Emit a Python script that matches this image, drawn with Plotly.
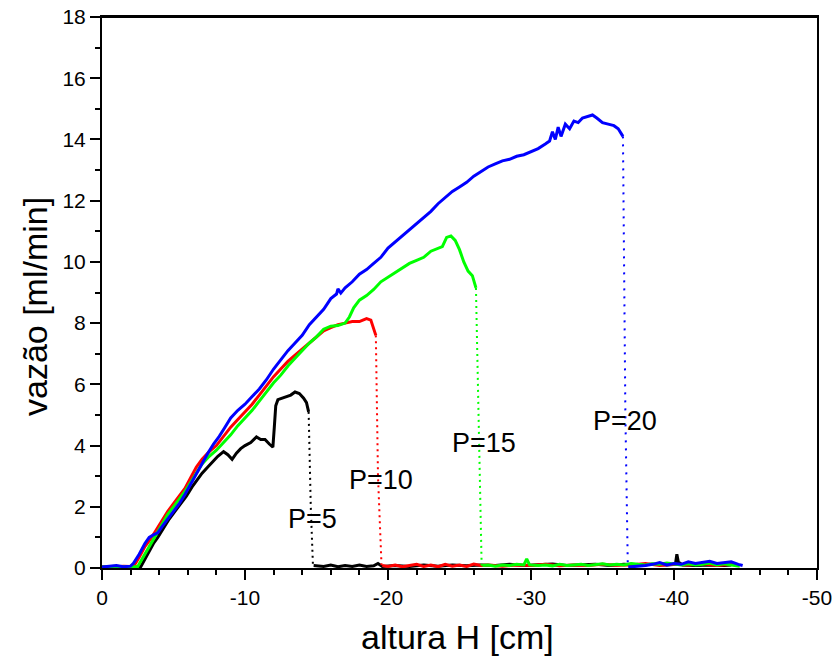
import plotly.graph_objects as go

# ---------------- data ----------------
# P=20 (blue)
blue_x = [0, -0.5, -1.0, -1.5, -2.0, -2.2, -2.6, -3.0, -3.3, -3.6, -3.9, -4.2, -4.6, -5.0, -5.4, -5.8,
          -6.2, -6.6, -7.0, -7.4, -7.8, -8.2, -8.6, -9.0, -9.5, -10.0, -10.5, -11.0, -11.5, -12.0,
          -12.5, -13.0, -13.5, -14.0, -14.5, -15.0, -15.5, -16.0, -16.4, -16.5, -16.7, -17.0, -17.5,
          -18.0, -18.5, -19.0, -19.5, -20.0, -20.5, -21.0, -21.5, -22.0, -22.5, -23.0, -23.5, -24.0,
          -24.5, -25.0, -25.5, -26.0, -26.5, -27.0, -27.5, -28.0, -28.5, -29.0, -29.5, -30.0, -30.5,
          -31.0, -31.3, -31.5, -31.7, -31.9, -32.1, -32.4, -32.7, -33.0, -33.3, -33.6, -34.0, -34.3,
          -34.6, -35.0, -35.4, -35.8, -36.1, -36.43]
blue_y = [0.03, 0.05, 0.08, 0.04, 0.06, 0.15, 0.45, 0.8, 1.0, 1.08, 1.15, 1.35, 1.6, 1.85, 2.1, 2.4,
          2.75, 3.1, 3.45, 3.75, 4.05, 4.3, 4.6, 4.9, 5.15, 5.35, 5.6, 5.85, 6.15, 6.5,
          6.8, 7.1, 7.35, 7.6, 7.95, 8.2, 8.45, 8.8, 8.95, 9.12, 8.98, 9.15, 9.35,
          9.6, 9.75, 9.95, 10.15, 10.45, 10.65, 10.85, 11.05, 11.25, 11.45, 11.65, 11.9, 12.1,
          12.3, 12.45, 12.6, 12.8, 12.95, 13.1, 13.2, 13.3, 13.35, 13.45, 13.5, 13.6, 13.7,
          13.85, 13.95, 14.25, 14.0, 14.4, 14.1, 14.5, 14.35, 14.6, 14.55, 14.7, 14.75, 14.8,
          14.7, 14.55, 14.5, 14.45, 14.35, 14.1]
blue_drop_x = [-36.43, -36.5, -36.6, -36.77]
blue_drop_y = [14.1, 10.5, 5.0, 0.05]
blue_tail_x = [-36.8, -37.5, -38.0, -38.5, -39.0, -39.5, -40.0, -40.5, -41.0, -41.5, -42.0, -42.5,
               -43.0, -43.5, -44.0, -44.5, -44.8]
blue_tail_y = [0.03, 0.05, 0.08, 0.12, 0.18, 0.1, 0.15, 0.12, 0.2, 0.15, 0.18, 0.22,
               0.15, 0.18, 0.2, 0.12, 0.08]

# P=10 (red)
red_x = [0, -0.5, -1.0, -1.5, -2.0, -2.3, -2.6, -3.0, -3.4, -3.8, -4.2, -4.6, -5.0, -5.4, -5.8, -6.2,
         -6.6, -7.0, -7.5, -8.0, -8.5, -9.0, -9.5, -10.0, -10.5, -11.0, -11.5, -12.0, -12.5, -13.0,
         -13.5, -14.0, -14.5, -15.0, -15.5, -16.0, -16.5, -17.0, -17.5, -18.0, -18.5, -18.8, -19.0,
         -19.15]
red_y = [0.03, 0.05, 0.04, 0.06, 0.05, 0.12, 0.35, 0.7, 0.95, 1.25, 1.55, 1.85, 2.1, 2.35, 2.6, 2.95,
         3.3, 3.55, 3.8, 4.0, 4.3, 4.6, 4.85, 5.1, 5.35, 5.65, 5.95, 6.25, 6.5, 6.75,
         6.95, 7.15, 7.35, 7.55, 7.75, 7.85, 7.95, 8.0, 8.05, 8.05, 8.15, 8.1, 7.85,
         7.6]
red_drop_x = [-19.15, -19.3, -19.55]
red_drop_y = [7.6, 3.0, 0.05]
red_tail_x = [-19.6, -20.0, -20.5, -21.0, -21.5, -22.0, -22.5, -23.0, -23.5, -24.0, -24.5, -25.0,
              -25.5, -26.0, -26.5, -27.0, -28.0, -29.0, -30.0, -31.0, -32.0, -33.0, -34.0, -35.0,
              -36.0, -37.0, -38.0, -39.0, -40.0, -41.0, -42.0, -43.0, -44.0, -44.5]
red_tail_y = [0.08, 0.05, 0.1, 0.04, 0.08, 0.12, 0.05, 0.1, 0.04, 0.12, 0.06, 0.1,
              0.05, 0.13, 0.08, 0.1, 0.06, 0.1, 0.08, 0.12, 0.07, 0.1, 0.08, 0.12,
              0.09, 0.1, 0.15, 0.08, 0.12, 0.1, 0.14, 0.08, 0.12, 0.1]

# P=15 (green)
green_x = [0, -0.5, -1.0, -1.5, -2.0, -2.5, -2.8, -3.1, -3.4, -3.8, -4.2, -4.6, -5.0, -5.4, -5.8, -6.2,
           -6.6, -7.0, -7.5, -8.0, -8.5, -9.0, -9.5, -10.0, -10.5, -11.0, -11.5, -12.0, -12.5, -13.0,
           -13.5, -14.0, -14.5, -15.0, -15.5, -16.0, -16.5, -17.0, -17.3, -17.6, -18.0, -18.5, -19.0,
           -19.5, -20.0, -20.5, -21.0, -21.5, -22.0, -22.5, -23.0, -23.5, -23.8, -24.1, -24.4, -24.7,
           -25.0, -25.3, -25.6, -25.9, -26.15]
green_y = [0.03, 0.04, 0.06, 0.04, 0.03, 0.05, 0.3, 0.55, 0.8, 1.1, 1.45, 1.75, 2.0, 2.25, 2.5, 2.8,
           3.1, 3.4, 3.65, 3.85, 4.1, 4.35, 4.65, 4.9, 5.15, 5.45, 5.75, 6.05, 6.3, 6.6,
           6.85, 7.1, 7.35, 7.55, 7.8, 7.9, 7.92, 8.0, 8.2, 8.5, 8.75, 8.9, 9.1,
           9.35, 9.5, 9.65, 9.8, 9.95, 10.05, 10.15, 10.35, 10.45, 10.5, 10.8, 10.85, 10.7,
           10.4, 10.0, 9.7, 9.55, 9.15]
green_drop_x = [-26.15, -26.4, -26.55]
green_drop_y = [9.15, 4.0, 0.05]
green_tail_x = [-26.6, -27.0, -27.5, -28.0, -28.5, -29.0, -29.5, -29.7, -29.9, -30.5, -31.0, -31.5,
                -32.0, -32.5, -33.0, -33.5, -34.0, -34.5, -35.0, -35.5, -36.0, -36.5, -37.0, -37.5,
                -38.0, -38.5, -39.0, -39.5, -40.0, -40.5, -41.0, -41.5, -42.0, -42.5, -43.0, -43.5,
                -44.0, -44.6]
green_tail_y = [0.08, 0.1, 0.06, 0.1, 0.08, 0.12, 0.1, 0.3, 0.1, 0.08, 0.1, 0.07,
                0.12, 0.08, 0.1, 0.12, 0.08, 0.1, 0.14, 0.1, 0.12, 0.1, 0.15, 0.12,
                0.1, 0.14, 0.12, 0.16, 0.12, 0.1, 0.14, 0.1, 0.12, 0.16, 0.1, 0.14,
                0.1, 0.06]

# P=5 (black)
black_x = [0, -1.0, -2.0, -2.7, -2.9, -3.2, -3.6, -3.9, -4.3, -4.7, -5.1, -5.5, -5.9, -6.3, -6.7,
           -7.0, -7.4, -7.8, -8.1, -8.5, -8.8, -9.1, -9.4, -9.7, -10.0, -10.4, -10.8, -11.1, -11.4,
           -11.7, -11.95, -12.05, -12.15, -12.3, -12.6, -12.9, -13.2, -13.5, -13.8, -14.1, -14.3,
           -14.45]
black_y = [0.03, 0.04, 0.03, 0.03, 0.2, 0.5, 0.8, 1.0, 1.3, 1.6, 1.85, 2.1, 2.35, 2.65, 2.9,
           3.1, 3.3, 3.5, 3.65, 3.8, 3.7, 3.55, 3.75, 3.9, 4.0, 4.1, 4.28, 4.2, 4.2,
           4.05, 3.95, 4.6, 5.3, 5.5, 5.55, 5.6, 5.65, 5.75, 5.7, 5.55, 5.4,
           5.1]
black_drop_x = [-14.45, -14.6, -14.75]
black_drop_y = [5.1, 2.0, 0.1]
black_tail_x = [-14.8, -15.5, -16.0, -16.5, -17.0, -17.5, -18.0, -18.5, -19.0, -19.3, -19.6, -20.5,
                -21.5, -22.5, -23.5, -24.5, -25.5, -26.5, -27.5, -28.5, -29.5, -30.5, -31.5, -32.5,
                -33.5, -34.5, -35.5, -36.5, -37.5, -38.5, -39.5, -40.1, -40.2, -40.3, -40.6, -41.5,
                -42.5, -43.5, -44.0]
black_tail_y = [0.08, 0.05, 0.1, 0.04, 0.08, 0.05, 0.1, 0.05, 0.07, 0.15, 0.05, 0.08,
                0.05, 0.1, 0.06, 0.1, 0.07, 0.1, 0.08, 0.12, 0.08, 0.1, 0.13, 0.08,
                0.1, 0.12, 0.08, 0.12, 0.1, 0.12, 0.1, 0.12, 0.45, 0.2, 0.1, 0.08,
                0.1, 0.08, 0.1]

# curve labels
label_text = ["P=5", "P=10", "P=15", "P=20"]
label_x = [-14.74, -19.5, -26.7, -36.55]
label_y = [1.6, 2.88, 4.08, 4.8]

x_tick_vals = [0, -10, -20, -30, -40, -50]
x_tick_text = ["0", "-10", "-20", "-30", "-40", "-50"]
y_tick_vals = [0, 2, 4, 6, 8, 10, 12, 14, 16, 18]

x_title = "altura H [cm]"
y_title = "vazão [ml/min]"

# ---------------- figure ----------------
FONT = "Arial, 'Liberation Sans', sans-serif"
fig = go.Figure()

series = [
    ("black", black_x, black_y, black_drop_x, black_drop_y, black_tail_x, black_tail_y, "2px,4px"),
    ("#FF0000", red_x, red_y, red_drop_x, red_drop_y, red_tail_x, red_tail_y, "2px,4px"),
    ("#00FF00", green_x, green_y, green_drop_x, green_drop_y, green_tail_x, green_tail_y, "2px,4px"),
    ("#0000FF", blue_x, blue_y, blue_drop_x, blue_drop_y, blue_tail_x, blue_tail_y, "2px,6px"),
]
for color, xs, ys, dx, dy, tx, ty, dash in series:
    fig.add_trace(go.Scatter(x=xs, y=ys, mode="lines",
                             line=dict(color=color, width=3), showlegend=False))
    fig.add_trace(go.Scatter(x=dx, y=dy, mode="lines",
                             line=dict(color=color, width=2, dash=dash), showlegend=False))
    fig.add_trace(go.Scatter(x=tx, y=ty, mode="lines",
                             line=dict(color=color, width=3), showlegend=False))

for t, lx, ly in zip(label_text, label_x, label_y):
    fig.add_annotation(x=lx, y=ly, text=t, showarrow=False,
                       font=dict(family=FONT, size=27, color="black"),
                       xanchor="center", yanchor="middle")

fig.add_annotation(xref="paper", yref="paper", x=0.497, y=-0.1252, text=x_title,
                   showarrow=False, font=dict(family=FONT, size=34, color="black"),
                   xanchor="center", yanchor="middle")
fig.add_annotation(xref="paper", yref="paper", x=-0.0937, y=0.4737, text=y_title,
                   showarrow=False, font=dict(family=FONT, size=34, color="black"),
                   xanchor="center", yanchor="middle", textangle=-90)

# frame line along the top of the plot area
fig.add_shape(type="line", xref="paper", yref="paper", x0=0, x1=1, y0=1, y1=1,
              line=dict(color="black", width=2), layer="above")

axis_common = dict(showline=True, linecolor="black", linewidth=2, mirror=True,
                   ticks="outside", ticklen=10, tickwidth=2, tickcolor="black",
                   showgrid=False, zeroline=False, automargin=False,
                   ticklabeloverflow="allow",
                   tickfont=dict(family=FONT, size=21, color="black"))

fig.update_xaxes(range=[0, -50], tickmode="array", tickvals=x_tick_vals, ticktext=x_tick_text,
                 minor=dict(tickmode="linear", tick0=0, dtick=2, ticks="outside",
                            ticklen=5, tickwidth=2, tickcolor="black"),
                 **axis_common)
fig.update_yaxes(range=[0, 18], tickmode="array", tickvals=y_tick_vals,
                 minor=dict(tickmode="linear", tick0=0, dtick=1, ticks="outside",
                            ticklen=5, tickwidth=2, tickcolor="black"),
                 **axis_common)

fig.update_layout(width=835, height=664,
                  margin=dict(l=102, r=18, t=17, b=96),
                  paper_bgcolor="white", plot_bgcolor="white",
                  showlegend=False)

# remove the default 8px page margin so the figure fills the window exactly
fig.write_html("out.html",
               config={"displayModeBar": False},
               post_script="document.body.style.margin='0';document.body.style.overflow='hidden';")
